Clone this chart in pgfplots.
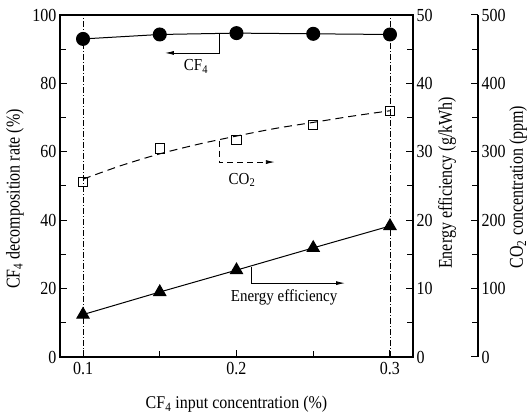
\documentclass[border=0pt]{standalone}
\usepackage{fontspec}
\setmainfont{Liberation Serif}
\usepackage{pgfplots}
\pgfplotsset{compat=1.18}
\usetikzlibrary{arrows.meta}

\pgfplotstableread{
x cf4
0.10 93.0
0.15 94.3
0.20 94.7
0.25 94.5
0.30 94.3
}\tcf
\pgfplotstableread{
x ee
0.10 6.2
0.15 9.5
0.20 12.7
0.25 15.95
0.30 19.15
}\tee
\pgfplotstableread{
x co2
0.10 256
0.15 305
0.20 317
0.25 339
0.30 360
}\tco
\pgfplotstableread{
x co2
0.100 260
0.125 280
0.150 297
0.175 311
0.200 323
0.225 334
0.250 343
0.275 352
0.300 360
}\tcofit

\begin{document}
\begin{tikzpicture}
\path[use as bounding box] (-60pt,-57pt) rectangle (471pt,357pt);
\pgfplotsset{every axis/.append style={
  scale only axis, width=353pt, height=342pt,
  xmin=0.085, xmax=0.315,
  /pgf/number format/assume math mode=true,
  tick align=inside,
  major tick length=7pt, minor tick length=6pt,
  every tick/.style={black, line width=1pt},
  axis line style={line width=1.3pt},
  tick label style={font=\fontsize{16}{19}\selectfont, yscale=1.15},
  label style={font=\fontsize{16}{19}\selectfont},
}}
% main axis
\begin{axis}[
  ymin=0, ymax=100,
  ytick={0,20,...,100}, minor ytick={10,30,50,70,90},
  xtick={0.1,0.2,0.3}, xticklabels={0.1,0.2,0.3},
  minor xtick={0.15,0.25},
  xtick pos=left, ytick pos=left,
  ylabel={CF\textsubscript{4} decomposition rate (\%)},
  ylabel style={at={(axis description cs:-0.128,0.462)}, anchor=center, yscale=1.22},
  xlabel={CF\textsubscript{4} input concentration (\%)},
  xlabel style={at={(axis description cs:0.5,-0.1374)}, anchor=center, yscale=1.12},
  xticklabel style={yshift=-1pt},
  clip=false,
]
\addplot[black, line width=0.6pt, dash pattern=on 6pt off 2pt on 1pt off 2pt] coordinates {(0.1,0) (0.1,100)};
\addplot[black, line width=0.6pt, dash pattern=on 6pt off 2pt on 1pt off 2pt] coordinates {(0.3,0) (0.3,100)};
\addplot[black, line width=1pt, mark=*, mark size=6.5pt] table[x=x,y=cf4] {\tcf};
% annotations
\draw[line width=0.8pt, -{Latex[length=9pt,width=4pt]}] (axis cs:0.1886,94.6) -- (axis cs:0.1886,88.9) -- (axis cs:0.1534,88.9);
\node[font=\fontsize{15}{18}\selectfont, yscale=1.12] at (axis cs:0.1736,85) {CF\textsubscript{4}};
\draw[line width=0.8pt, dash pattern=on 6pt off 4pt, -{Latex[length=9pt,width=4pt]}] (axis cs:0.1886,63.3) -- (axis cs:0.1886,57.0) -- (axis cs:0.225,57.0);
\node[font=\fontsize{15}{18}\selectfont, yscale=1.12] at (axis cs:0.2036,51.8) {CO\textsubscript{2}};
\draw[line width=0.8pt, -{Latex[length=9pt,width=4pt]}] (axis cs:0.2094,26.2) -- (axis cs:0.2094,21.6) -- (axis cs:0.2707,21.6);
\node[font=\fontsize{15}{18}\selectfont, yscale=1.12] at (axis cs:0.231,17.5) {Energy efficiency};
\end{axis}
% energy efficiency axis
\begin{axis}[
  ymin=0, ymax=50,
  axis y line*=right, axis x line=none,
  ytick={0,10,...,50}, minor ytick={5,15,25,35,45},
  ylabel={Energy efficiency (g/kWh)},
  ylabel style={at={(axis description cs:1.0963,0.509)}, anchor=center, yscale=1.22},
  clip=false,
]
\addplot[black, line width=1pt, mark=triangle*, mark size=7pt] table[x=x,y=ee] {\tee};
\end{axis}
% CO2 data (hidden axis, 0--500 ppm)
\begin{axis}[ymin=0, ymax=500, axis lines=none, clip=false]
\addplot[black, line width=1pt, dash pattern=on 8pt off 5pt, smooth] table[x=x,y=co2] {\tcofit};
\addplot[only marks, mark=square, mark size=4.6pt, mark options={black, fill=white, line width=0.8pt}] table[x=x,y=co2] {\tco};
\end{axis}
% CO2 axis display
\begin{axis}[
  at={(65pt,0pt)},
  ymin=0, ymax=500,
  axis y line*=right, axis x line=none,
  ytick={0,100,...,500}, minor ytick={50,150,250,350,450},
  ylabel={CO\textsubscript{2} concentration (ppm)},
  ylabel style={at={(axis description cs:1.114,0.497)}, anchor=center, yscale=1.22},
]
\addplot[draw=none] coordinates {(0.2,0)};
\end{axis}
\end{tikzpicture}
\end{document}
